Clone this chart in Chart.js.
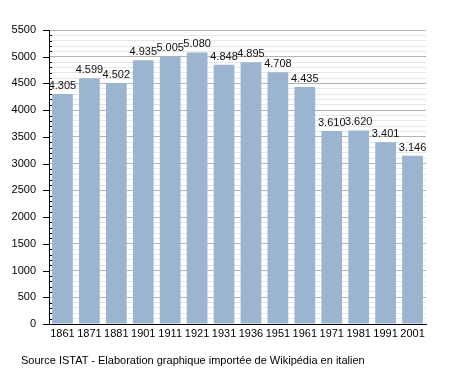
<!DOCTYPE html>
<html>
<head>
<meta charset="utf-8">
<script src="https://cdn.jsdelivr.net/npm/chart.js@4"></script>
<style>
    body { margin: 0; background: #fff; }
    #wrap { position: relative; width: 455px; height: 373px; }
    #source {
        position: absolute; left: 21px; top: 354px;
        font: 11px "Liberation Sans", Arial, sans-serif; color: #000;
        white-space: nowrap;
    }
</style>
</head>
<body>
<div id="wrap">
    <canvas id="popChart" width="455" height="373"></canvas>
    <div id="source">Source ISTAT - Elaboration graphique importée de Wikipédia en italien</div>
</div>
<script>
// Population census data
const years = ['1861', '1871', '1881', '1901', '1911', '1921', '1931', '1936', '1951', '1961', '1971', '1981', '1991', '2001'];
const population = [4305, 4599, 4502, 4935, 5005, 5080, 4848, 4895, 4708, 4435, 3610, 3620, 3401, 3146];
const yTickLabels = ['0', '500', '1000', '1500', '2000', '2500', '3000', '3500', '4000', '4500', '5000', '5500'];

const FONT = '"Liberation Sans", Arial, sans-serif';

function formatIt(v) {
    return v.toLocaleString('it-IT').replace(/\s/g, '.');
}

// value labels above each bar
const barLabels = {
    id: 'barLabels',
    afterDatasetsDraw(chart) {
        const ctx = chart.ctx;
        const meta = chart.getDatasetMeta(0);
        ctx.save();
        ctx.font = '11px ' + FONT;
        ctx.fillStyle = '#111';
        ctx.textAlign = 'center';
        ctx.textBaseline = 'alphabetic';
        meta.data.forEach((bar, i) => {
            const v = population[i];
            const txt = String(v).replace(/(\d)(\d{3})$/, '$1.$2');
            ctx.fillText(txt, bar.x, bar.y - 5);
        });
        ctx.restore();
    }
};

// tick marks on the y axis: long ones outside for majors, short ones inside for minors
const yTickMarks = {
    id: 'yTickMarks',
    afterDraw(chart) {
        const ctx = chart.ctx;
        const y = chart.scales.y;
        const x0 = chart.chartArea.left;
        ctx.save();
        ctx.strokeStyle = '#000';
        ctx.lineWidth = 1;
        for (let v = 0; v <= 5500; v += 100) {
            const py = Math.round(y.getPixelForValue(v)) + 0.5;
            ctx.beginPath();
            if (v % 500 === 0) {
                ctx.moveTo(x0 - 6, py);
                ctx.lineTo(x0, py);
            } else {
                ctx.moveTo(x0, py);
                ctx.lineTo(x0 + 3, py);
            }
            ctx.stroke();
        }
        ctx.restore();
    }
};

new Chart(document.getElementById('popChart'), {
    type: 'bar',
    data: {
        labels: years,
        datasets: [{
            data: population,
            backgroundColor: '#9bb4d0',
            borderWidth: 0,
            barPercentage: 0.77,
            categoryPercentage: 1.0
        }]
    },
    options: {
        responsive: false,
        animation: false,
        layout: { padding: { left: 0, right: 29, top: 30, bottom: 0 } },
        plugins: {
            legend: { display: false },
            tooltip: { enabled: false }
        },
        scales: {
            x: {
                afterFit(scale) { scale.height = 49; },
                grid: { display: false, drawTicks: false },
                border: { color: '#000', width: 1 },
                ticks: {
                    autoSkip: false,
                    maxRotation: 0,
                    padding: 3,
                    color: '#000',
                    font: { family: FONT, size: 11 }
                }
            },
            y: {
                min: 0,
                max: 5500,
                afterFit(scale) { scale.width = 49; },
                grid: {
                    drawTicks: false,
                    color: ctx => (ctx.tick && ctx.tick.value % 500 === 0) ? '#b4b4b4' : '#e6e6e6'
                },
                border: { color: '#000', width: 1 },
                ticks: {
                    stepSize: 100,
                    autoSkip: false,
                    padding: 13,
                    color: '#000',
                    font: { family: FONT, size: 11 },
                    callback: function(value) {
                        return value % 500 === 0 ? yTickLabels[value / 500] : '';
                    }
                }
            }
        }
    },
    plugins: [barLabels, yTickMarks]
});
</script>
</body>
</html>
